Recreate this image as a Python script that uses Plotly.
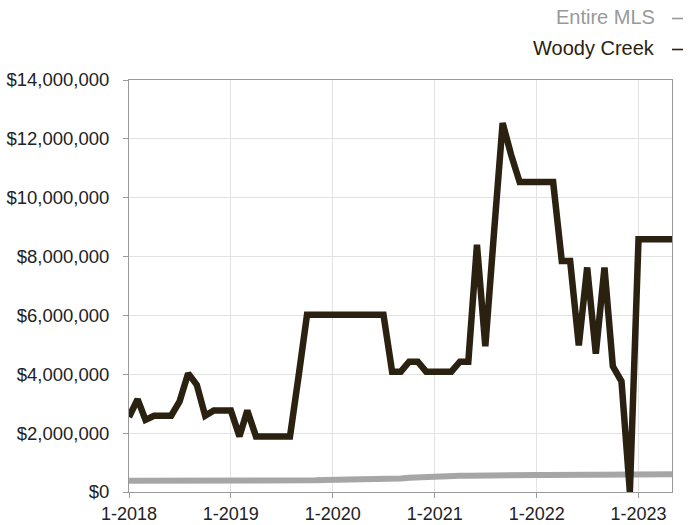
import plotly.graph_objects as go

# Monthly dates: Jan 2018 .. May 2023
months = [f"{y}-{m:02d}-01" for y in range(2018, 2024) for m in range(1, 13)][:65]

entire_mls = [
    0.38, 0.38, 0.38, 0.38, 0.38, 0.38, 0.37, 0.37, 0.37, 0.37, 0.37, 0.36,
    0.36, 0.36, 0.35, 0.36, 0.37, 0.38, 0.38, 0.39, 0.39, 0.40, 0.40, 0.41,
    0.41, 0.42, 0.42, 0.42, 0.43, 0.43, 0.43, 0.44, 0.46, 0.48, 0.50, 0.52,
    0.53, 0.54, 0.54, 0.55, 0.55, 0.56, 0.57, 0.57, 0.58, 0.58, 0.58, 0.58,
    0.58, 0.58, 0.59, 0.59, 0.59, 0.59, 0.59, 0.59, 0.59, 0.59, 0.59, 0.59,
    0.59, 0.60, 0.60, 0.60, 0.60,
]
woody_creek = [
    2.55, 3.15, 2.45, 2.59, 2.59, 2.59, 3.07, 4.03, 3.64, 2.59, 2.77, 2.77,
    2.77, 1.89, 2.77, 1.89, 1.89, 1.89, 1.89, 1.89, 3.95, 6.02, 6.02, 6.02,
    6.02, 6.02, 6.02, 6.02, 6.02, 6.02, 6.02, 4.09, 4.09, 4.43, 4.43, 4.09,
    4.09, 4.09, 4.09, 4.43, 4.43, 8.40, 4.95, 8.80, 12.54, 11.47, 10.53, 10.53,
    10.53, 10.53, 10.53, 7.85, 7.85, 4.98, 7.63, 4.70, 7.63, 4.27, 3.76, 0.00,
    8.59, 8.59, 8.59, 8.59, 8.59,
]
entire_mls = [v * 1e6 for v in entire_mls]
woody_creek = [v * 1e6 for v in woody_creek]

x_tickvals = ["2018-01-01", "2019-01-01", "2020-01-01", "2021-01-01", "2022-01-01", "2023-01-01"]
x_ticktext = ["1-2018", "1-2019", "1-2020", "1-2021", "1-2022", "1-2023"]
series_names = ["Entire MLS", "Woody Creek"]

GREY_LINE = "#a6a6a6"
GREY_TEXT = "#999999"
DARK = "#2a2110"
FONT = "Liberation Sans, Arial, sans-serif"

L, R, T, B = 129, 17, 80, 33
W, H = 689, 525

fig = go.Figure()
fig.add_trace(go.Scatter(x=months, y=entire_mls, mode="lines", name=series_names[0],
                         line=dict(color=GREY_LINE, width=6)))
fig.add_trace(go.Scatter(x=months, y=woody_creek, mode="lines", name=series_names[1],
                         line=dict(color=DARK, width=6.5)))

fig.update_layout(
    width=W, height=H,
    margin=dict(l=L, r=R, t=T, b=B, pad=0, autoexpand=False),
    paper_bgcolor="white", plot_bgcolor="white",
    showlegend=False,
    font=dict(family=FONT, size=18, color="#222222"),
)
fig.update_xaxes(
    type="date", range=["2018-01-01", "2023-05-01"],
    tickvals=x_tickvals, ticktext=x_ticktext,
    showgrid=True, gridcolor="#e2e2e2", gridwidth=1,
    showline=True, linecolor="#999999", linewidth=1, mirror=True,
    ticks="outside", ticklen=5, tickcolor="#999999",
    tickfont=dict(size=18, color="#222222"),
    zeroline=False, automargin=False,
)
fig.update_yaxes(
    range=[0, 14e6], dtick=2e6, tick0=0,
    tickprefix="$", tickformat=",.0f",
    showgrid=True, gridcolor="#e2e2e2", gridwidth=1,
    showline=True, linecolor="#999999", linewidth=1, mirror=True,
    ticks="outside", ticklen=5, tickcolor="#999999",
    tickfont=dict(size=18.5, color="#222222"),
    ticklabelstandoff=10,
    zeroline=False, automargin=False,
)

# Legend drawn as right-aligned labels followed by a short dash
plot_w = W - L - R
plot_h = H - T - B
legend_rows = [(series_names[0], GREY_TEXT, 17.5), (series_names[1], DARK, 48.5)]
for name, col, py in legend_rows:
    yp = (H - B - py) / plot_h
    fig.add_annotation(xref="paper", yref="paper", x=(657 - L) / plot_w, y=yp, text=name,
                       showarrow=False, xanchor="right", yanchor="middle",
                       font=dict(family=FONT, size=20, color=col))
    fig.add_shape(type="line", xref="paper", yref="paper",
                  x0=(672 - L) / plot_w, x1=(683 - L) / plot_w,
                  y0=yp - 1 / plot_h, y1=yp - 1 / plot_h,
                  line=dict(color=col, width=1.6))

fig.write_html("out.html", config={"displayModeBar": False},
               post_script="document.body.style.margin='0';")
